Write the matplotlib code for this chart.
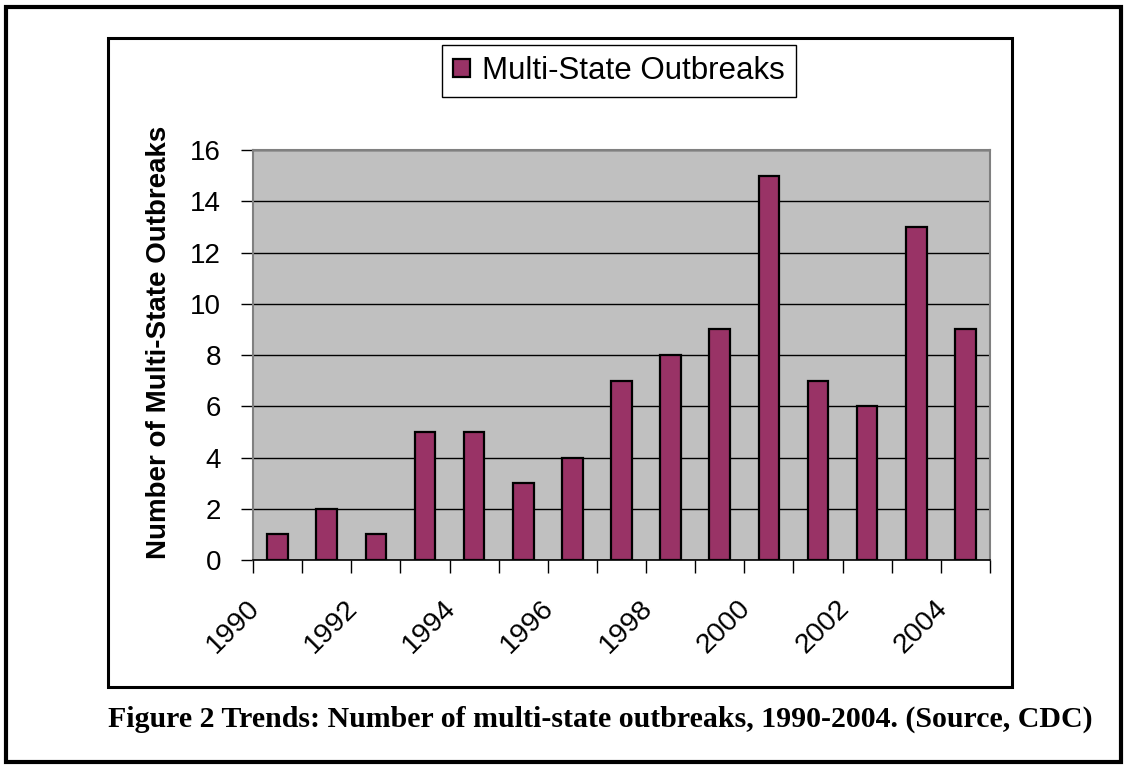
import numpy as np
import matplotlib
matplotlib.use("Agg")
import matplotlib.pyplot as plt
import matplotlib.transforms as mtransforms
from matplotlib.patches import Rectangle

# Data
years = list(range(1990, 2005))
outbreaks = [1, 2, 1, 5, 5, 3, 4, 7, 8, 9, 15, 7, 6, 13, 9]
label_years = [1990, 1992, 1994, 1996, 1998, 2000, 2002, 2004]
y_ticks = [0, 2, 4, 6, 8, 10, 12, 14, 16]

W, H = 1125, 767
fig = plt.figure(figsize=(W / 100, H / 100), dpi=100)
fig.patch.set_facecolor("white")

def fx(px):
    return px / W

def fy(py):
    return 1 - py / H

# outer and inner frames
fig.add_artist(Rectangle((fx(6), fy(762)), fx(1115), 755 / H, transform=fig.transFigure,
                         fill=False, edgecolor="black", linewidth=3))
fig.add_artist(Rectangle((fx(108), fy(687)), fx(904), 649 / H, transform=fig.transFigure,
                         fill=False, edgecolor="black", linewidth=2.2))

ax = fig.add_axes([fx(253), fy(560), fx(737), 410 / H])
ax.set_facecolor("#C0C0C0")

x = np.arange(len(years))
ax.bar(x, outbreaks, width=0.42, color="#993366", edgecolor="black", linewidth=1.6,
       label="Multi-State Outbreaks", zorder=3)

ax.set_xlim(-0.5, len(years) - 0.5)
ax.set_ylim(0, 16)
ax.set_yticks(y_ticks)
ax.set_yticklabels([str(v) for v in y_ticks], fontsize=20, family="Liberation Sans")
ax.tick_params(axis="y", direction="out", length=9, width=1, pad=14, colors="black")
ax.yaxis.grid(True, color="black", linewidth=1, zorder=1)
ax.set_axisbelow(True)

# tick marks at category boundaries, labels at every other category
ax.set_xticks(np.arange(-0.5, len(years)), minor=True)
ax.tick_params(axis="x", which="minor", direction="out", length=9, width=1, color="black")
centers = [years.index(yr) for yr in label_years]
ax.set_xticks(centers)
ax.set_xticklabels([str(yr) for yr in label_years], rotation=45, ha="right", va="top",
                   fontsize=20.5, family="Liberation Sans")
ax.tick_params(axis="x", which="major", length=0, pad=25)
offset = mtransforms.ScaledTranslation(-0.13, 0, fig.dpi_scale_trans)
for lab in ax.get_xticklabels():
    lab.set_transform(lab.get_transform() + offset)

for side in ["top", "right", "left"]:
    ax.spines[side].set_color("#808080")
    ax.spines[side].set_linewidth(1.5)
ax.spines["bottom"].set_color("black")
ax.spines["bottom"].set_linewidth(1.2)

ax.set_ylabel("Number of Multi-State Outbreaks", fontsize=20, fontweight="bold",
              family="Liberation Sans")
ax.yaxis.set_label_coords((172 - 253) / 737, (560 - 342) / 410)

leg = ax.legend(loc="center", bbox_to_anchor=(fx(619), fy(71)),
                bbox_transform=fig.transFigure, fancybox=False, framealpha=1,
                edgecolor="black", prop={"family": "Liberation Sans", "size": 22.5},
                handlelength=0.55, handleheight=0.55, handletextpad=0.4,
                borderpad=0.35, borderaxespad=0)
leg.get_frame().set_linewidth(1)

fig.text(fx(600), fy(719), "Figure 2 Trends: Number of multi-state outbreaks, 1990-2004. (Source, CDC)",
         ha="center", va="center", fontsize=21.5, fontweight="bold", family="Liberation Serif")

fig.savefig("out.png", dpi=100)
